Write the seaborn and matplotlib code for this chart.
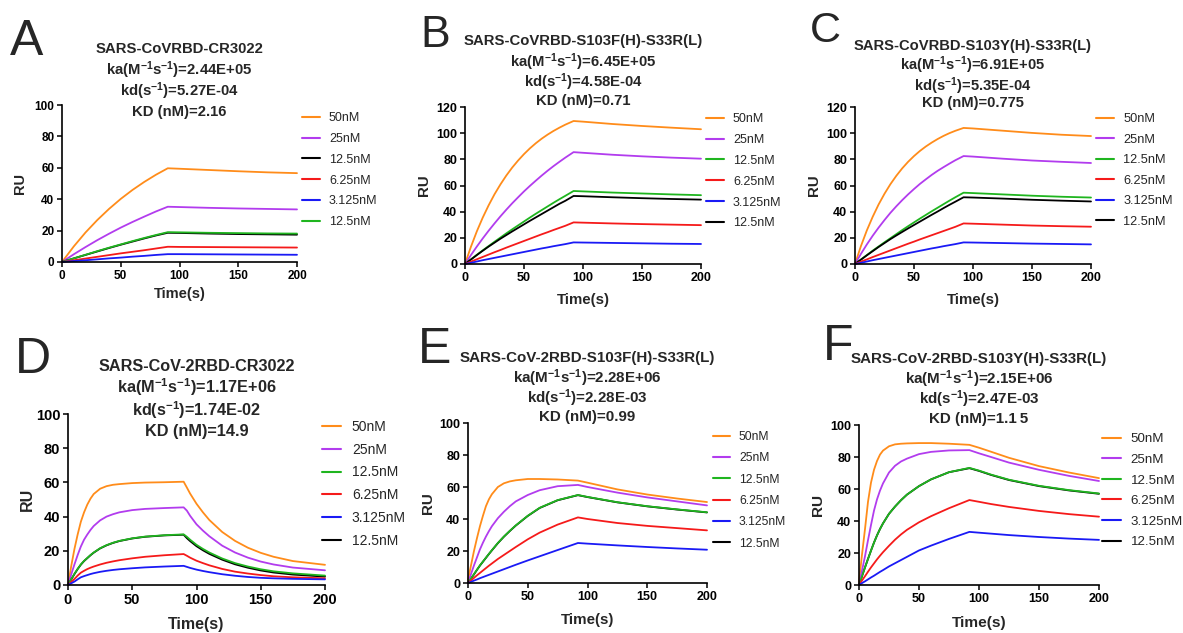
import matplotlib
matplotlib.use("Agg")
import matplotlib.pyplot as plt
import seaborn as sns

# ---------------- data ----------------
# Panel A  SARS-CoVRBD-CR3022
A_time = [0, 10, 20, 30, 40, 50, 60, 70, 80, 90, 100, 125, 150, 175, 200]
A_50 = [0, 9.9, 18.8, 26.7, 33.8, 40.2, 45.9, 51.0, 55.6, 59.7, 59.4, 58.6, 57.8, 57.1, 56.6]
A_25 = [0, 4.9, 9.5, 13.9, 18.0, 21.9, 25.5, 28.9, 32.2, 35.2, 35.0, 34.5, 34.1, 33.8, 33.5]
A_12_black = [0, 2.3, 4.5, 6.7, 8.9, 11.0, 13.0, 15.0, 16.9, 18.6, 18.5, 18.1, 17.8, 17.6, 17.4]
A_6 = [0, 1.1, 2.2, 3.3, 4.4, 5.5, 6.5, 7.5, 8.6, 9.7, 9.6, 9.5, 9.4, 9.3, 9.2]
A_3 = [0, 0.6, 1.1, 1.7, 2.3, 2.8, 3.4, 3.9, 4.5, 5.0, 5.0, 4.9, 4.8, 4.7, 4.6]
A_12_green = [0, 2.3, 4.6, 6.9, 9.1, 11.2, 13.3, 15.3, 17.2, 19.0, 18.9, 18.6, 18.4, 18.2, 18.1]

# Panel B  SARS-CoVRBD-S103F(H)-S33R(L)
B_time = [0, 5, 10, 15, 20, 25, 30, 35, 40, 45, 50, 55, 60, 65, 70, 75, 80, 85, 92,
          100, 125, 150, 175, 200]
B_50 = [0, 13.1, 24.9, 35.4, 44.8, 53.3, 60.8, 67.6, 73.7, 79.1, 84.0, 88.4, 92.3, 95.8,
        98.9, 101.7, 104.2, 106.5, 109.3, 108.8, 107.0, 105.5, 104.2, 103.0]
B_25 = [0, 6.8, 13.3, 19.5, 25.4, 31.0, 36.4, 41.5, 46.4, 51.0, 55.5, 59.7, 63.7, 67.6,
        71.3, 74.8, 78.1, 81.3, 85.5, 85.0, 83.5, 82.3, 81.3, 80.5]
B_12_green = [0, 3.5, 7.0, 10.4, 13.7, 17.0, 20.2, 23.4, 26.5, 29.5, 32.5, 35.5, 38.4, 41.2,
              44.0, 46.8, 49.5, 52.1, 55.8, 55.5, 54.6, 53.9, 53.2, 52.6]
B_6 = [0, 1.8, 3.6, 5.4, 7.2, 9.0, 10.7, 12.5, 14.2, 15.9, 17.6, 19.3, 21.0, 22.7,
       24.3, 26.0, 27.6, 29.2, 31.8, 31.6, 31.0, 30.5, 30.1, 29.7]
B_3 = [0, 0.9, 1.9, 2.9, 3.8, 4.7, 5.6, 6.5, 7.4, 8.3, 9.2, 10.1, 11.0, 11.9,
       12.7, 13.6, 14.4, 15.2, 16.5, 16.4, 16.1, 15.8, 15.5, 15.3]
B_12_black = [0, 3.4, 6.8, 10.1, 13.3, 16.3, 19.3, 22.1, 24.9, 27.6, 30.3, 33.0, 35.6, 38.2,
              40.8, 43.4, 46.0, 48.3, 52.0, 51.8, 51.0, 50.3, 49.7, 49.2]

# Panel C  SARS-CoVRBD-S103Y(H)-S33R(L)
C_time = [0, 5, 10, 15, 20, 25, 30, 35, 40, 45, 50, 55, 60, 65, 70, 75, 80, 85, 92,
          100, 125, 150, 175, 200]
C_50 = [0, 13.6, 25.6, 36.1, 45.5, 53.7, 61.0, 67.4, 73.1, 78.1, 82.5, 86.4, 89.8, 92.8,
        95.5, 97.9, 100.0, 101.8, 104.0, 103.6, 101.9, 100.2, 98.8, 97.8]
C_25 = [0, 7.7, 14.9, 21.6, 27.8, 33.6, 39.1, 44.1, 48.8, 53.2, 57.3, 61.2, 64.7, 68.1,
        71.2, 74.0, 76.7, 79.3, 82.5, 82.1, 80.5, 79.1, 78.1, 77.2]
C_12_green = [0, 3.4, 6.8, 10.2, 13.4, 16.6, 19.7, 22.8, 25.9, 28.9, 31.8, 34.7, 37.5, 40.3,
              43.0, 45.7, 48.4, 51.0, 54.5, 54.2, 53.2, 52.2, 51.4, 50.8]
C_6 = [0, 1.8, 3.5, 5.3, 7.0, 8.7, 10.4, 12.1, 13.8, 15.5, 17.1, 18.8, 20.4, 22.0,
       23.6, 25.2, 26.8, 28.4, 31.0, 30.8, 30.1, 29.4, 28.9, 28.5]
C_3 = [0, 0.9, 1.9, 2.9, 3.8, 4.7, 5.6, 6.5, 7.4, 8.3, 9.2, 10.1, 11.0, 11.9,
       12.7, 13.6, 14.4, 15.2, 16.5, 16.4, 16.0, 15.6, 15.3, 15.0]
C_12_black = [0, 3.3, 6.6, 9.8, 13.0, 16.0, 19.0, 21.8, 24.5, 27.2, 29.8, 32.4, 35.0, 37.6,
              40.1, 42.7, 45.2, 47.6, 51.0, 50.8, 50.0, 49.1, 48.4, 47.8]

# Panel D  SARS-CoV-2RBD-CR3022
D_time = [0, 2.5, 5, 7.5, 10, 12.5, 15, 17.5, 20, 25, 30, 35, 40, 50, 60, 75, 90,
          92.5, 95, 100, 105, 110, 120, 130, 140, 150, 160, 175, 200]
D_50 = [0, 11, 21, 29.5, 37, 42.5, 47, 50.5, 53.2, 56.3, 57.8, 58.6, 59.0, 59.6, 59.9, 60.1, 60.4,
        57, 53.5, 47.5, 42.5, 38, 31, 25.8, 21.8, 18.8, 16.5, 14, 11.8]
D_25 = [0, 6.2, 12, 17.5, 22.5, 26.5, 29.5, 32.2, 34.5, 37.8, 40, 41.4, 42.5, 43.8, 44.5, 45, 45.4,
        43.5, 40.5, 35.5, 31.8, 28.5, 23, 19, 16, 13.7, 12, 10.2, 8.6]
D_12_green = [0, 3.3, 6.5, 9.4, 12, 14.1, 15.8, 17.5, 19, 21.5, 23.3, 24.7, 25.8, 27.3, 28.3, 29.1, 29.6,
              28.2, 26.5, 23.5, 21.1, 19, 15.5, 12.8, 10.8, 9.2, 8, 6.8, 5.5]
D_6 = [0, 1.8, 3.5, 5.5, 7.2, 8.3, 9.3, 10.1, 10.8, 12, 13, 13.8, 14.5, 15.6, 16.5, 17.4, 18.1,
       17.1, 16, 14.2, 12.8, 11.5, 9.4, 7.8, 6.7, 5.8, 5.1, 4.5, 3.9]
D_3 = [0, 1, 2, 3.3, 4.5, 5.2, 5.8, 6.4, 6.9, 7.7, 8.3, 8.8, 9.2, 9.8, 10.3, 10.8, 11.2,
       10.6, 10, 9, 8.2, 7.5, 6.3, 5.4, 4.7, 4.2, 3.9, 3.6, 3.3]
D_12_black = [0, 3.2, 6.4, 9.3, 11.9, 14.0, 15.7, 17.4, 18.9, 21.4, 23.2, 24.6, 25.7, 27.2, 28.2, 29.0, 29.4,
              27.4, 25.7, 22.7, 20.3, 18.2, 14.8, 12.1, 10.1, 8.5, 7.3, 6.1, 4.9]

# Panel E  SARS-CoV-2RBD-S103F(H)-S33R(L)
E_time = [0, 2.5, 5, 7.5, 10, 12.5, 15, 17.5, 20, 25, 30, 35, 40, 50, 60, 75, 92,
          100, 125, 150, 175, 200]
E_50 = [2, 11, 20, 28, 35.5, 42, 48, 52.3, 55.5, 60, 62.3, 63.5, 64.2, 65, 65, 64.7, 64,
        62.7, 58.5, 55.3, 52.8, 50.6]
E_25 = [0, 5.6, 11, 16, 21, 25.2, 29, 32.4, 35.5, 40.5, 44.5, 48, 51, 55, 58, 60.5, 61.3,
        60, 56.5, 53.5, 51, 48.5]
E_12_green = [0, 2.8, 5.5, 8.3, 11, 13.4, 15.8, 18.2, 20.5, 25, 29, 32.6, 36, 42, 47, 51.8, 55,
              53.8, 50.5, 48, 46, 44.2]
E_6 = [0, 1.6, 3.2, 4.8, 6.3, 7.8, 9.3, 10.8, 12.2, 15, 17.5, 20, 22.5, 27.3, 31.5, 36.5, 41,
       40, 37.5, 35.7, 34.3, 32.9]
E_3 = [0, 0.7, 1.5, 2.2, 3, 3.7, 4.4, 5.1, 5.8, 7.2, 8.6, 10, 11.4, 14.1, 16.7, 20.6, 25,
       24.6, 23.5, 22.5, 21.6, 20.8]
E_12_black = [0, 2.7, 5.4, 8.2, 10.9, 13.3, 15.7, 18.1, 20.4, 24.9, 28.9, 32.5, 35.9, 41.9, 46.9, 51.7, 54.9,
              53.7, 50.4, 47.9, 45.9, 44.1]

# Panel F  SARS-CoV-2RBD-S103Y(H)-S33R(L)
F_time = [0, 2.5, 5, 7.5, 10, 12.5, 15, 17.5, 20, 25, 30, 35, 40, 50, 60, 75, 92,
          100, 110, 125, 150, 175, 200]
F_50 = [2, 19, 35, 52, 64, 72, 77.5, 81.5, 84, 86.7, 87.9, 88.3, 88.5, 88.7, 88.7, 88.3, 87.6,
        85.8, 83.3, 79.5, 74.3, 70.3, 66.8]
F_25 = [0, 9, 18, 28, 37.5, 46.5, 53.5, 59, 63.5, 70.3, 74.5, 77.2, 79, 81.8, 83.2, 84.1, 84.3,
        82.3, 80, 76.5, 72, 68.2, 65]
F_12_green = [0, 5.5, 11, 16.3, 21.5, 26.5, 31, 35, 38.5, 44.5, 49, 53, 56.5, 61.8, 66, 70.5, 73.2,
              71.5, 69, 65.8, 62, 59.3, 57.2]
F_6 = [0, 2.8, 5.5, 8.3, 11, 13.5, 16, 18.3, 20.5, 24.5, 28.3, 31.6, 34.5, 39.2, 43, 48, 53.1,
       52, 50.6, 48.8, 46.3, 44.3, 42.7]
F_3 = [0, 1.2, 2.3, 3.5, 4.7, 5.8, 7, 8.2, 9.3, 11.6, 13.6, 15.6, 17.6, 21.6, 24.6, 28.8, 33.2,
       32.7, 32.1, 31.2, 30, 29, 28.2]
F_12_black = [0, 5.5, 11, 16.3, 21.5, 26.5, 31, 35, 38.5, 44.5, 49, 53, 56.5, 61.8, 66, 70.5, 73,
              71.3, 68.8, 65.6, 61.8, 59.1, 57]

titles = [
    "SARS-CoVRBD-CR3022",
    "SARS-CoVRBD-S103F(H)-S33R(L)",
    "SARS-CoVRBD-S103Y(H)-S33R(L)",
    "SARS-CoV-2RBD-CR3022",
    "SARS-CoV-2RBD-S103F(H)-S33R(L)",
    "SARS-CoV-2RBD-S103Y(H)-S33R(L)",
]
ka_values = ["2.44E+05", "6.45E+05", "6.91E+05", "1.17E+06", "2.28E+06", "2.15E+06"]
kd_values = ["5.27E-04", "4.58E-04", "5.35E-04", "1.74E-02", "2.28E-03", "2.47E-03"]
KD_values = ["2.16", "0.71", "0.775", "14.9", "0.99", "1.1\u20095"]
letters = ["A", "B", "C", "D", "E", "F"]
y_max = [100, 120, 120, 100, 100, 100]
x_ticks = [0, 50, 100, 150, 200]

# ---------------- styling ----------------
ORANGE = "#FF8C1A"
PURPLE = "#B23CEE"
GREEN = "#1FB51F"
RED = "#F51A1A"
BLUE = "#1A1AF5"
BLACK = "#000000"

sns.set_style("ticks")
plt.rcParams["font.family"] = ["Liberation Sans", "DejaVu Sans"]
plt.rcParams["mathtext.fontset"] = "custom"
plt.rcParams["mathtext.rm"] = "Liberation Sans:bold"
plt.rcParams["mathtext.it"] = "Liberation Sans:bold"
plt.rcParams["mathtext.bf"] = "Liberation Sans:bold"
plt.rcParams["mathtext.default"] = "rm"

W, H = 1183, 633
fig = plt.figure(figsize=(W / 100, H / 100), dpi=100)


def fx(px):
    return px / W


def fy(py):
    return 1 - py / H


panels = [
    dict(time=A_time,
         series={"50": (A_50, ORANGE), "25": (A_25, PURPLE), "12k": (A_12_black, BLACK),
                 "6": (A_6, RED), "3": (A_3, BLUE), "12g": (A_12_green, GREEN)},
         draw=["50", "25", "12k", "12g", "6", "3"],
         legend=["50", "25", "12k", "6", "3", "12g"],
         box=(62, 297, 105, 262), title_base=[53, 75, 96, 116], title_fs=10.7,
         letter_pos=(10, 55), letter_fs=36, tick_fs=8.5, lab_fs=10.5,
         leg=(302, 112), leg_fs=9, leg_sp=0.71, ylab_x=27, xlab_y=287),
    dict(time=B_time,
         series={"50": (B_50, ORANGE), "25": (B_25, PURPLE), "12g": (B_12_green, GREEN),
                 "6": (B_6, RED), "3": (B_3, BLUE), "12k": (B_12_black, BLACK)},
         draw=["50", "25", "12g", "12k", "6", "3"],
         legend=["50", "25", "12g", "6", "3", "12k"],
         box=(465, 701, 107, 264), title_base=[45, 67, 87, 105], title_fs=10.7,
         letter_pos=(420, 47), letter_fs=32, tick_fs=9, lab_fs=10.8,
         leg=(706, 113), leg_fs=9, leg_sp=0.71, ylab_x=431, xlab_y=293),
    dict(time=C_time,
         series={"50": (C_50, ORANGE), "25": (C_25, PURPLE), "12g": (C_12_green, GREEN),
                 "6": (C_6, RED), "3": (C_3, BLUE), "12k": (C_12_black, BLACK)},
         draw=["50", "25", "12g", "12k", "6", "3"],
         legend=["50", "25", "12g", "6", "3", "12k"],
         box=(855, 1091, 107, 264), title_base=[50, 70, 91, 107], title_fs=10.6,
         letter_pos=(810, 42), letter_fs=31, tick_fs=9, lab_fs=10.8,
         leg=(1096, 113), leg_fs=9.2, leg_sp=0.67, ylab_x=821, xlab_y=293),
    dict(time=D_time,
         series={"50": (D_50, ORANGE), "25": (D_25, PURPLE), "12g": (D_12_green, GREEN),
                 "6": (D_6, RED), "3": (D_3, BLUE), "12k": (D_12_black, BLACK)},
         draw=["50", "25", "12k", "12g", "6", "3"],
         legend=["50", "25", "12g", "6", "3", "12k"],
         box=(68, 325, 414, 585), title_base=[371, 393, 416, 436], title_fs=11.7,
         letter_pos=(15, 373), letter_fs=36, tick_fs=10.5, lab_fs=11.5,
         leg=(322, 420), leg_fs=10, leg_sp=0.63, ylab_x=35, xlab_y=617),
    dict(time=E_time,
         series={"50": (E_50, ORANGE), "25": (E_25, PURPLE), "12g": (E_12_green, GREEN),
                 "6": (E_6, RED), "3": (E_3, BLUE), "12k": (E_12_black, BLACK)},
         draw=["12k", "50", "25", "12g", "6", "3"],
         legend=["50", "25", "12g", "6", "3", "12k"],
         box=(468, 707, 423, 583), title_base=[362, 383, 403, 421], title_fs=10.9,
         letter_pos=(418, 363), letter_fs=36, tick_fs=9, lab_fs=10.9,
         leg=(713, 431), leg_fs=8.7, leg_sp=0.77, ylab_x=435, xlab_y=613),
    dict(time=F_time,
         series={"50": (F_50, ORANGE), "25": (F_25, PURPLE), "12g": (F_12_green, GREEN),
                 "6": (F_6, RED), "3": (F_3, BLUE), "12k": (F_12_black, BLACK)},
         draw=["12k", "50", "25", "12g", "6", "3"],
         legend=["50", "25", "12g", "6", "3", "12k"],
         box=(859, 1099, 425, 585), title_base=[363, 384, 404, 423], title_fs=10.9,
         letter_pos=(823, 360), letter_fs=36, tick_fs=9, lab_fs=11.1,
         leg=(1102, 433), leg_fs=9.6, leg_sp=0.62, ylab_x=825, xlab_y=616),
]

label_of = {"50": "50nM", "25": "25nM", "12g": "12.5nM", "12k": "12.5nM",
            "6": "6.25nM", "3": "3.125nM"}

for i, p in enumerate(panels):
    l, r, t, b = p["box"]
    ax = fig.add_axes([fx(l), fy(b), fx(r - l), (b - t) / H])
    lines = {}
    for key in p["draw"]:
        vals, col = p["series"][key]
        sns.lineplot(x=p["time"], y=vals, color=col, linewidth=1.3, ax=ax,
                     legend=False, sort=False)
        lines[key] = ax.get_lines()[-1]
    ax.set_xlim(0, 200)
    ax.set_ylim(0, y_max[i])
    ax.set_xticks(x_ticks)
    ax.set_yticks(list(range(0, y_max[i] + 1, 20)))
    sns.despine(ax=ax)
    for s in ("left", "bottom"):
        ax.spines[s].set_linewidth(1.2)
        ax.spines[s].set_color("black")
    ax.tick_params(length=3.5, width=1.1, labelsize=p["tick_fs"], pad=2, colors="black")
    for lbl in ax.get_xticklabels() + ax.get_yticklabels():
        lbl.set_fontweight("bold")
    ax.set_xlabel("Time(s)", fontsize=p["lab_fs"], fontweight="bold")
    ax.set_ylabel("RU", fontsize=p["lab_fs"], fontweight="bold")
    ax.yaxis.set_label_coords((p["ylab_x"] - l) / (r - l), 0.5)
    ax.xaxis.set_label_coords(0.5, -(p["xlab_y"] - b) / (b - t))
    for ln in ax.get_lines():
        ln.set_clip_on(False)
        ln.set_solid_joinstyle("round")

    handles = [lines[k] for k in p["legend"]]
    leg = ax.legend(handles, [label_of[k] for k in p["legend"]], loc="upper left",
                    bbox_to_anchor=(fx(p["leg"][0]), fy(p["leg"][1])),
                    bbox_transform=fig.transFigure, frameon=False,
                    fontsize=p["leg_fs"], handlelength=1.4, handletextpad=0.75,
                    labelspacing=p["leg_sp"], borderpad=0, borderaxespad=0)
    for h in leg.get_lines():
        h.set_linewidth(1.5)

    cx = fx((l + r) / 2)
    tb = p["title_base"]
    fs = p["title_fs"]
    fig.text(cx, fy(tb[0]), titles[i], ha="center", va="baseline", fontsize=fs, fontweight="bold")
    fig.text(cx, fy(tb[1]), "ka(M$^{-1}$s$^{-1}$)=" + ka_values[i], ha="center", va="baseline",
             fontsize=fs, fontweight="bold")
    fig.text(cx, fy(tb[2]), "kd(s$^{-1}$)=" + kd_values[i], ha="center", va="baseline",
             fontsize=fs, fontweight="bold")
    fig.text(cx, fy(tb[3]), "KD (nM)=" + KD_values[i], ha="center", va="baseline",
             fontsize=fs, fontweight="bold")
    fig.text(fx(p["letter_pos"][0]), fy(p["letter_pos"][1]), letters[i], ha="left",
             va="baseline", fontsize=p["letter_fs"])

fig.savefig("out.png", dpi=100, facecolor="white")
